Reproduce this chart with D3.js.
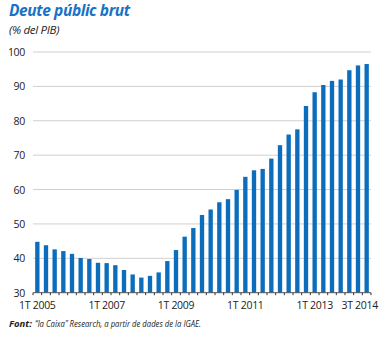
<!DOCTYPE html>
<html><head><meta charset="utf-8">
<script src="https://cdn.jsdelivr.net/npm/d3@7"></script>
<style>body{margin:0;background:#fff}svg{display:block}</style>
</head><body>
<script>
const quarters = [];
for (let y = 2005; y <= 2014; y++) for (let q = 1; q <= 4; q++) { if (y === 2014 && q > 3) break; quarters.push(q + "T " + y); }
const values = [44.8,43.8,42.6,42.1,41.3,40.1,39.8,38.7,38.6,38.0,36.6,35.3,34.4,34.9,35.9,39.2,
  42.4,46.3,48.8,52.6,54.2,56.3,57.2,59.9,63.7,65.6,66.0,69.0,72.9,76.0,77.5,84.3,
  88.3,90.4,91.6,92.0,94.7,96.1,96.5];
const yTicks = [30,40,50,60,70,80,90,100];
const xLabels = ["1T 2005","1T 2007","1T 2009","1T 2011","1T 2013","3T 2014"];

const W = 381, H = 338;
const svg = d3.select("body").append("svg").attr("width", W).attr("height", H);
const font = "'Open Sans', 'Noto Sans', sans-serif";

const x = d3.scaleBand().domain(quarters).range([33, 371]).paddingInner(0.5).paddingOuter(0.25);
const y = d3.scaleLinear().domain([30, 100]).range([292.7, 52]);

// gridlines
svg.append("g").selectAll("line").data(yTicks.filter(d => d > 30)).join("line")
  .attr("x1", 33).attr("x2", 371).attr("y1", d => y(d)).attr("y2", d => y(d))
  .attr("stroke", "#d0d0d0").attr("stroke-width", 1);

// y labels
svg.append("g").selectAll("text").data(yTicks).join("text")
  .attr("x", 25).attr("y", d => y(d) + 4).attr("text-anchor", "end")
  .attr("font-family", font).attr("font-size", 10.5).attr("fill", "#222")
  .attr("letter-spacing", "-0.3").text(d => d);

// bars
svg.append("g").selectAll("rect").data(values).join("rect")
  .attr("x", (d, i) => x(quarters[i])).attr("width", x.bandwidth())
  .attr("y", d => y(d)).attr("height", d => y(30) - y(d))
  .attr("fill", "#0b6dbb");

// x axis line and ticks
const step = x.step();
svg.append("line").attr("x1", 33).attr("x2", 371).attr("y1", y(30)).attr("y2", y(30))
  .attr("stroke", "#555").attr("stroke-width", 1);
svg.append("g").selectAll("line").data(d3.range(quarters.length + 1)).join("line")
  .attr("x1", i => 33 + i * step).attr("x2", i => 33 + i * step)
  .attr("y1", y(30)).attr("y2", y(30) + 2.5).attr("stroke", "#333").attr("stroke-width", 1);

// x labels
svg.append("g").selectAll("text").data(xLabels).join("text")
  .attr("x", d => x(d) + x.bandwidth() / 2 + (d === "3T 2014" ? -7 : 0))
  .attr("y", 309).attr("text-anchor", "middle")
  .attr("font-family", font).attr("font-size", 10.5).attr("fill", "#222")
  .attr("letter-spacing", "-0.3").text(d => d);

// title
svg.append("text").attr("x", 9).attr("y", 16).attr("font-family", font)
  .attr("font-size", 15.5).attr("font-weight", "bold").attr("font-style", "italic")
  .attr("fill", "#1a72c4").attr("letter-spacing", "-0.4").text("Deute públic brut");
svg.append("text").attr("x", 9).attr("y", 34).attr("font-family", font)
  .attr("font-size", 11.5).attr("font-style", "italic").attr("fill", "#222")
  .attr("letter-spacing", "-0.3").text("(% del PIB)");

// source
svg.append("text").attr("x", 9).attr("y", 327).attr("font-family", font)
  .attr("font-size", 9.5).attr("font-style", "italic").attr("font-weight", "bold").attr("fill", "#222")
  .attr("textLength", 23).attr("lengthAdjust", "spacingAndGlyphs").text("Font:");
svg.append("text").attr("x", 35).attr("y", 327).attr("font-family", font)
  .attr("font-size", 9.5).attr("font-style", "italic").attr("fill", "#222")
  .attr("textLength", 166).attr("lengthAdjust", "spacingAndGlyphs")
  .text("“la Caixa” Research, a partir de dades de la IGAE.");
</script>
</body></html>
